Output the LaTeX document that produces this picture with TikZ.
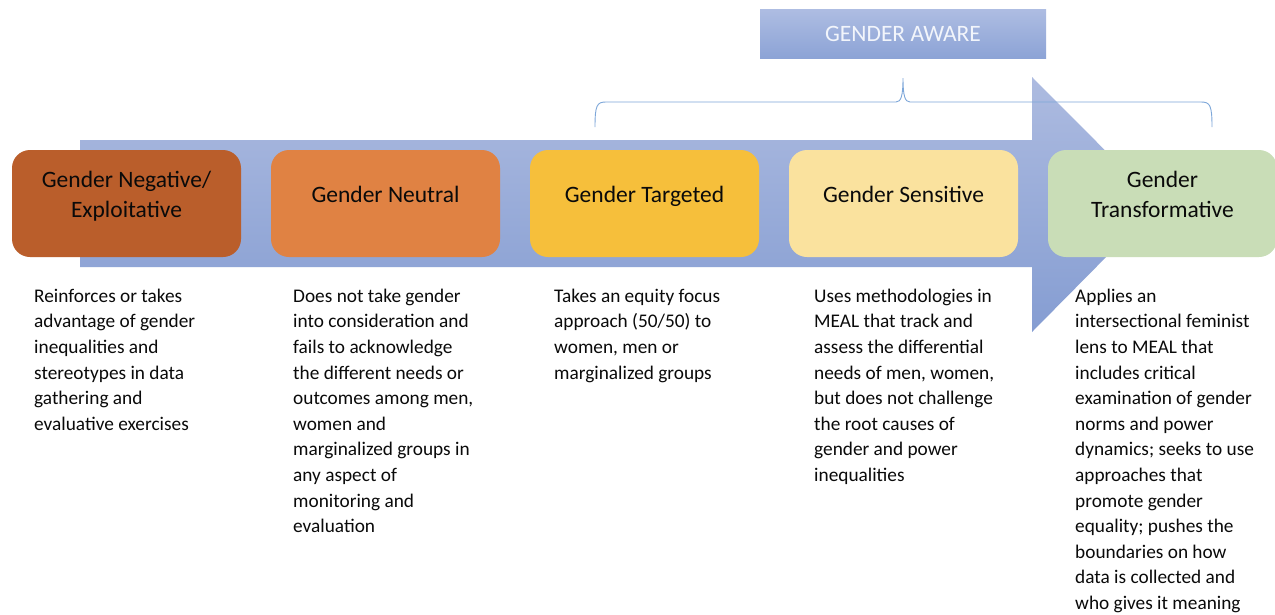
\documentclass[tikz,border=0pt]{standalone}
\usepackage{fontspec}
\setmainfont{Carlito}
\definecolor{arrowtop}{HTML}{ADBBE0}
\definecolor{arrowbot}{HTML}{859DD2}
\definecolor{awaretop}{HTML}{AEBDE2}
\definecolor{awarebot}{HTML}{8CA3D6}
\definecolor{awaretext}{HTML}{F2F5FB}
\definecolor{cneg}{HTML}{BA5E2B}
\definecolor{cneu}{HTML}{E08243}
\definecolor{ctar}{HTML}{F6BF3B}
\definecolor{csen}{HTML}{FAE29E}
\definecolor{ctra}{HTML}{C9DDB7}
\definecolor{bracec}{HTML}{7DA7D9}
\definecolor{txt}{HTML}{0A0A0A}
\tikzset{
  stagebox/.style={draw=none, rounded corners=18pt, minimum width=229pt, minimum height=107pt, inner sep=0pt},
  stagetitle/.style={inner sep=0pt, align=center, text=txt, font=\fontsize{23.5}{30}\selectfont},
  desc/.style={inner sep=0pt, align=left, anchor=north west, text=txt, font=\fontsize{19.3}{25.6}\selectfont},
  awarebox/.style={top color=awaretop, bottom color=awarebot, draw=none, minimum width=286pt, minimum height=49pt, inner sep=0pt, text=awaretext, font=\fontsize{23.5}{27}\selectfont},
  bracepath/.style={draw=bracec, line width=0.9pt}
}
\begin{document}
\begin{tikzpicture}[x=1pt,y=-1pt]
\useasboundingbox (0,0) rectangle (1275,614);
\fill[white] (0,0) rectangle (1275,614);
% big arrow
\shade[top color=arrowtop, bottom color=arrowbot]
  (80,140) -- (1032,140) -- (1032,77) -- (1158.5,204) -- (1032,332) -- (1032,267) -- (80,267) -- cycle;
% gender aware label
\node[awarebox] (aware) at (903,33.5) {GENDER AWARE};
% brace
\path[bracepath] (595,127) .. controls (595,105) and (597,102) .. (606,102) -- (896,102)
  .. controls (901,102) and (903,96) .. (903,78)
  .. controls (903,96) and (905,102) .. (910,102) -- (1201,102)
  .. controls (1210,102) and (1212,105) .. (1212,127);
% stage boxes
\node[stagebox, fill=cneg] (b1) at (126.5,203.5) {};
\node[stagebox, fill=cneu] (b2) at (385.5,203.5) {};
\node[stagebox, fill=ctar] (b3) at (644.5,203.5) {};
\node[stagebox, fill=csen] (b4) at (903.5,203.5) {};
\node[stagebox, fill=ctra] (b5) at (1162.5,203.5) {};
% titles
\node[stagetitle] (t1) at (126.5,196) {\strut Gender Negative/\\\strut Exploitative};
\node[stagetitle] (t2) at (385.5,196) {\strut Gender Neutral};
\node[stagetitle] (t3) at (644.5,196) {\strut Gender Targeted};
\node[stagetitle] (t4) at (903.5,196) {\strut Gender Sensitive};
\node[stagetitle] (t5) at (1162.5,196) {\strut Gender\\\strut Transformative};
% descriptions
\node[desc] (d1) at (34,284.1) {\strut Reinforces or takes\\advantage of gender\\inequalities and\\stereotypes in data\\gathering and\\evaluative exercises};
\node[desc] (d2) at (293,284.1) {\strut Does not take gender\\into consideration and\\fails to acknowledge\\the different needs or\\outcomes among men,\\women and\\marginalized groups in\\any aspect of\\monitoring and\\evaluation};
\node[desc] (d3) at (554,284.1) {\strut Takes an equity focus\\approach (50/50) to\\women, men or\\marginalized groups};
\node[desc] (d4) at (814,284.1) {\strut Uses methodologies in\\MEAL that track and\\assess the differential\\needs of men, women,\\but does not challenge\\the root causes of\\gender and power\\inequalities};
\node[desc] (d5) at (1075,284.1) {\strut Applies an\\intersectional feminist\\lens to MEAL that\\includes critical\\examination of gender\\norms and power\\dynamics; seeks to use\\approaches that\\promote gender\\equality; pushes the\\boundaries on how\\data is collected and\\who gives it meaning};
\end{tikzpicture}
\end{document}
